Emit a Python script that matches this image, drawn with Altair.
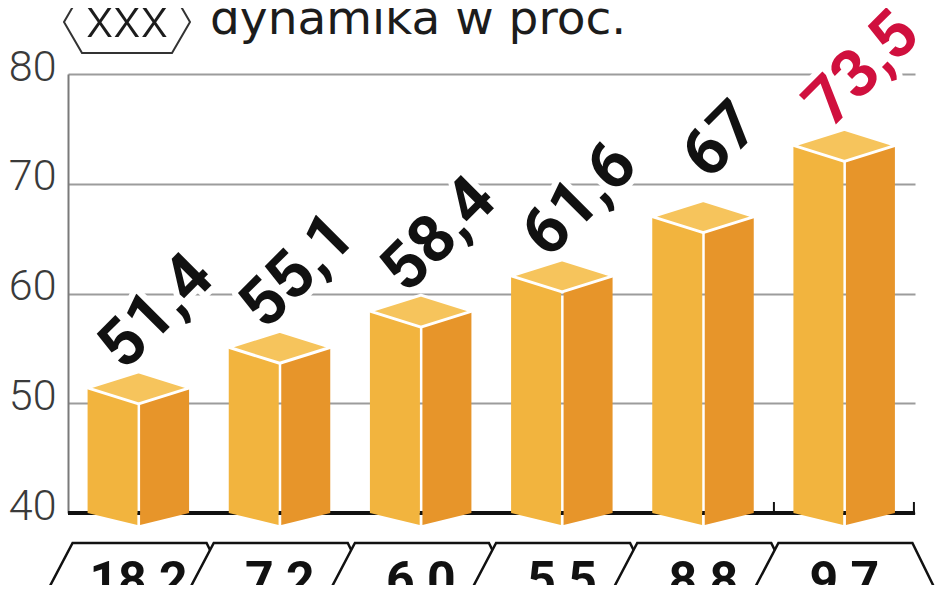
import altair as alt
import pandas as pd

# ---- data ----
categories = ["k1", "k2", "k3", "k4", "k5", "k6"]
values = [51.4, 55.1, 58.4, 61.6, 67.0, 73.5]
value_labels = ["51,4", "55,1", "58,4", "61,6", "67", "73,5"]
dynamics = ["18,2", "7,2", "6,0", "5,5", "8,8", "9,7"]
label_colors = ["#111111", "#111111", "#111111", "#111111", "#111111", "#d0103e"]
y_ticks = [40, 50, 60, 70, 80]
title_text = "dynamika w proc."
badge_text = "xxx"

df = pd.DataFrame({"cat": categories, "value": values, "label": value_labels,
                   "dyn": dynamics, "lc": label_colors})
hdr = pd.DataFrame({"t": [title_text], "b": [badge_text]})

W, H = 847, 439
FONT = "Roboto"
LIGHT, DARK, TOP = "#f2b43e", "#e7952a", "#f6c45c"

x_enc = alt.X("cat:N", sort=categories,
              scale=alt.Scale(paddingInner=0, paddingOuter=0), axis=None)
y_scale = alt.Scale(domain=[y_ticks[0], y_ticks[-1]], zero=False, nice=False)
y_axis = alt.Axis(values=y_ticks, title=None, grid=True, gridColor="#9c9c9c",
                  gridWidth=2, ticks=False, domainColor="#7a7a7a", domainWidth=2,
                  labelFont=FONT, labelFontSize=43, labelFontWeight=300,
                  labelColor="#3a3a3a", labelPadding=12, labelOffset=-7)
y_enc = alt.Y("value:Q", scale=y_scale, axis=y_axis)
base_y = alt.Y("base:Q", scale=y_scale, axis=y_axis)

base = alt.Chart(df).transform_calculate(base=str(y_ticks[0]))

baseline = base.mark_rule(color="#111111", strokeWidth=4).encode(y=base_y)

# small separator ticks on the baseline around the last category
last = base.transform_filter(alt.datum.cat == categories[-1])
sep_l = last.mark_rule(color="#111111", strokeWidth=2, xOffset=-70.5).encode(
    x=x_enc, y=base_y, y2=alt.Y2Datum(y_ticks[0] + 1))
sep_r = last.mark_rule(color="#111111", strokeWidth=2, xOffset=69.5).encode(
    x=x_enc, y=base_y, y2=alt.Y2Datum(y_ticks[0] + 1))

left_face = base.mark_bar(width=50, xOffset=-26, color=LIGHT).encode(
    x=x_enc, y=y_enc, y2="base:Q")
right_face = base.mark_bar(width=49, xOffset=26, color=DARK).encode(
    x=x_enc, y=y_enc, y2="base:Q")

left_bottom = base.mark_point(shape="M-51,0L-1.2,12L-1.2,0Z", size=4, filled=True,
                              fill=LIGHT, strokeWidth=0, opacity=1).encode(x=x_enc, y=base_y)
right_bottom = base.mark_point(shape="M1.5,0L1.5,12L50.5,0Z", size=4, filled=True,
                               fill=DARK, strokeWidth=0, opacity=1).encode(x=x_enc, y=base_y)

top_face = base.mark_point(shape="M-51,0L0,-16L51,0L0,16Z", size=4, filled=True,
                           fill=TOP, stroke="white", strokeWidth=3, opacity=1,
                           strokeJoin="round").encode(x=x_enc, y=y_enc)

lbl_kw = dict(angle=315, align="center", baseline="middle", font=FONT, fontSize=66,
              fontWeight="bold", xOffset=18, yOffset=-76)
halo = base.mark_text(stroke="white", strokeWidth=12, fill="white", strokeJoin="round",
                      **lbl_kw).encode(x=x_enc, y=y_enc, text="label:N")
labels = base.mark_text(**lbl_kw).encode(x=x_enc, y=y_enc, text="label:N",
                                         color=alt.Color("lc:N", scale=None))

hex_path = "M-96,57L-66,0L68,0L96,57L68,114L-66,114Z"
hexes = base.mark_point(shape=hex_path, size=4, filled=True, fill="white", stroke="#111111",
                        strokeWidth=2.5, opacity=1).encode(x=x_enc, y=alt.value(469))
hex_text = base.mark_text(font=FONT, fontSize=50, fontWeight="bold", align="center",
                          baseline="alphabetic", color="#111111").encode(
    x=x_enc, y=alt.value(523), text="dyn:N")

hchart = alt.Chart(hdr)
title_mark = hchart.mark_text(font="DejaVu Sans", fontSize=47, align="left",
                              baseline="alphabetic", color="#1c1c1c").encode(
    x=alt.value(142), y=alt.value(-40), text="t:N")
badge_hex = hchart.mark_point(shape="M-63,0L-45,31L45,31L63,0L45,-31L-45,-31Z", size=4,
                              filled=False, stroke="#333333", strokeWidth=2,
                              opacity=1).encode(x=alt.value(59), y=alt.value(-52))
badge_txt = hchart.mark_text(font=FONT, fontSize=56, fontWeight=300, align="center",
                             baseline="middle", color="#1c1c1c").encode(
    x=alt.value(59), y=alt.value(-54), text="b:N")

chart = alt.layer(
    baseline, sep_l, sep_r, left_face, right_face, left_bottom, right_bottom, top_face,
    halo, labels, hexes, hex_text, title_mark, badge_hex, badge_txt
).properties(
    width=W, height=H,
    padding={"left": 60, "top": 66, "right": 25, "bottom": 72},
    autosize=alt.AutoSizeParams(type="none"),
    background="white",
).configure_view(stroke=None)

chart.save("out.html", embed_options={"renderer": "svg", "actions": False})
